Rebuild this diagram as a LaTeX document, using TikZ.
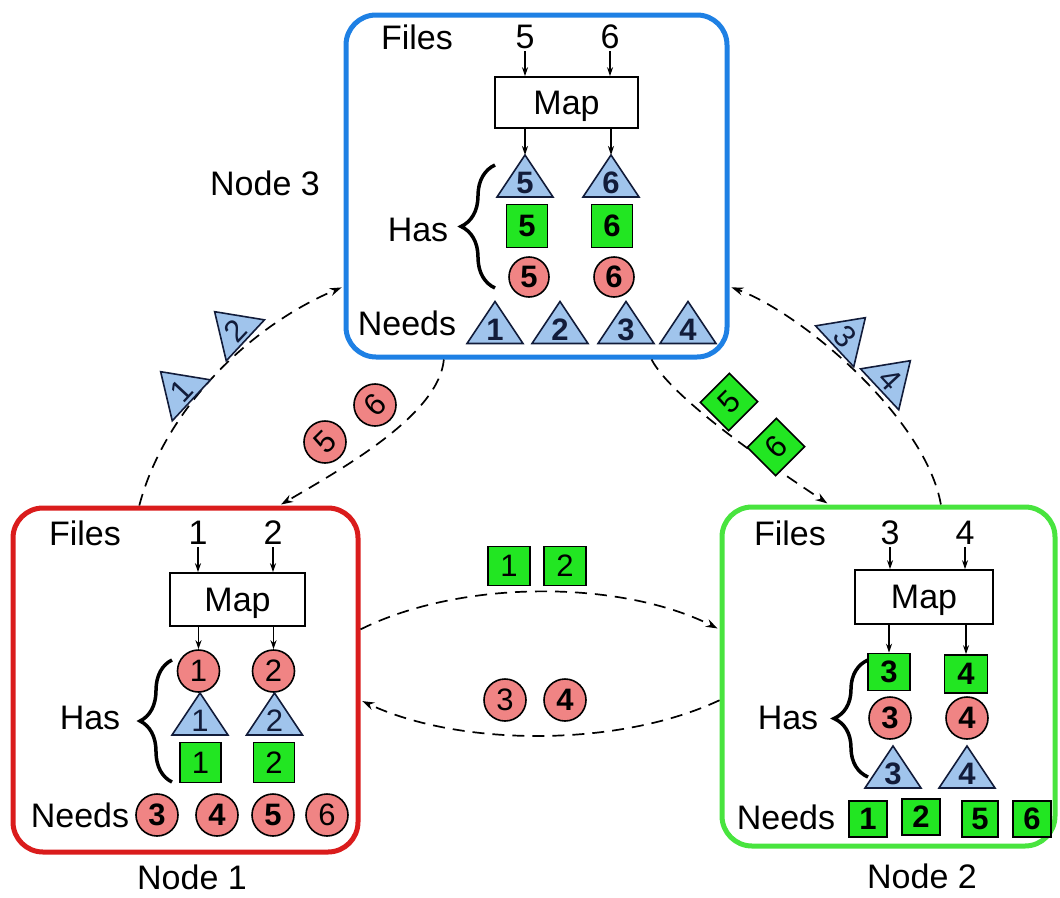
\documentclass[tikz,border=0pt]{standalone}
\usepackage{fontspec}
\setmainfont{Liberation Sans}
\usetikzlibrary{arrows.meta,calc,decorations.pathreplacing}
\definecolor{boxblue}{RGB}{30,128,228}
\definecolor{boxred}{RGB}{218,28,28}
\definecolor{boxgreen}{RGB}{72,228,62}
\definecolor{trifill}{RGB}{160,196,236}
\definecolor{triline}{RGB}{18,28,58}
\definecolor{sqfill}{RGB}{34,230,34}
\definecolor{circfill}{RGB}{240,132,132}
\newcommand{\dg}{\fontsize{31}{31}\selectfont}
\newcommand{\lblfont}{\fontsize{34}{36}\selectfont}
\newcommand{\mytri}[6]{%
  \begin{scope}[shift={(#2,#3)},rotate=#4]
    \draw[trishape] (-28,21) -- (28,21) -- (0,-21) -- cycle;
    \coordinate (#1top) at (0,-21);
    \node[trinum,transform shape] (#1) at (0,7) {#5#6};
  \end{scope}}
\tikzset{
  bigbox/.style={rectangle,rounded corners=30pt,line width=5pt,inner sep=0pt},
  lbl/.style={inner sep=0pt,font=\lblfont},
  fnum/.style={inner sep=2pt,font=\lblfont},
  mapbox/.style={draw,line width=1.6pt,rectangle,inner sep=0pt,text depth=0pt,font=\lblfont},
  farrow/.style={line width=1.2pt,-{Stealth[length=9pt,width=6pt]}},
  sq/.style={draw=black,line width=1.6pt,fill=sqfill,minimum width=41pt,minimum height=40pt,inner sep=0pt,font=\dg},
  circ/.style={circle,draw=black,line width=1.6pt,fill=circfill,minimum size=42pt,inner sep=0pt,font=\dg},
  trishape/.style={draw=triline,line width=1.6pt,fill=trifill,line join=miter},
  trinum/.style={inner sep=0pt,text=triline,font=\dg},
  flow/.style={line width=1.7pt,dash pattern=on 12pt off 8pt,-{Stealth[length=12pt,width=8pt]},shorten >=2pt},
  hbrace/.style={decorate,line width=3.5pt},
}
\begin{document}
\begin{tikzpicture}[x=1pt,y=-1pt]
\useasboundingbox (0,0) rectangle (1060,897);

% ---------- boxes ----------
\node[bigbox,draw=boxblue,minimum width=381pt,minimum height=342pt] (box3) at (536.5,186) {};
\node[bigbox,draw=boxred,minimum width=345pt,minimum height=344pt] (box1) at (185.5,680) {};
\node[bigbox,draw=boxgreen,minimum width=333pt,minimum height=339pt] (box2) at (888.5,676.5) {};

\node[lbl] (lab3) at (265,183) {Node 3};
\node[lbl] (lab1) at (192,877) {Node 1};
\node[lbl] (lab2) at (922,876) {Node 2};

% ---------- Node 3 ----------
\node[lbl] (files3) at (417,37) {Files};
\node[fnum] (f5) at (525,37) {5};
\node[fnum] (f6) at (610,37) {6};
\node[mapbox,minimum width=143pt,minimum height=51pt] (map3) at (566.5,102.5) {Map};
\draw[farrow] (f5.south) -- (f5.south |- map3.north);
\draw[farrow] (f6.south) -- (f6.south |- map3.north);
\mytri{t35}{525}{176}{0}{\bfseries}{5}
\mytri{t36}{611}{176}{0}{\bfseries}{6}
\draw[farrow] (map3.south -| t35top) -- (t35top);
\draw[farrow] (map3.south -| t36top) -- (t36top);
\node[sq,minimum height=43pt] (s35) at (527,226) {\bfseries 5};
\node[sq,minimum height=43pt] (s36) at (612,226) {\bfseries 6};
\node[circ,minimum size=40pt] (c35) at (529,277) {\bfseries 5};
\node[circ,minimum size=40pt] (c36) at (614,277) {\bfseries 6};
\draw[hbrace,decoration={brace,amplitude=34pt}] (495,288) -- (495,165);
\node[lbl] (has3) at (418,230) {Has};
\node[lbl] (needs3) at (407,323) {Needs};
\mytri{n31}{495}{322.5}{0}{\bfseries}{1}
\mytri{n32}{560}{322.5}{0}{\bfseries}{2}
\mytri{n33}{626}{322.5}{0}{\bfseries}{3}
\mytri{n34}{688}{322.5}{0}{\bfseries}{4}

% ---------- Node 1 ----------
\node[lbl] (files1) at (85,533) {Files};
\node[fnum] (f1) at (198,533) {1};
\node[fnum] (f2) at (273,533) {2};
\node[mapbox,minimum width=135pt,minimum height=53pt] (map1) at (237.5,599.5) {Map};
\draw[farrow] (f1.south) -- (f1.south |- map1.north);
\draw[farrow] (f2.south) -- (f2.south |- map1.north);
\node[circ] (c11) at (198.5,671) {1};
\node[circ] (c12) at (273.5,671) {2};
\draw[farrow] (map1.south -| c11.north) -- (c11.north);
\draw[farrow] (map1.south -| c12.north) -- (c12.north);
\mytri{t11}{200}{714}{0}{}{1}
\mytri{t12}{274.5}{714}{0}{}{2}
\node[sq] (s11) at (200.5,762.5) {1};
\node[sq] (s12) at (274,762.5) {2};
\draw[hbrace,decoration={brace,amplitude=32pt}] (172,782) -- (172,660);
\node[lbl] (has1) at (90,718) {Has};
\node[lbl] (needs1) at (80,815) {Needs};
\node[circ] (n13) at (157,815) {\bfseries 3};
\node[circ] (n14) at (217,815) {\bfseries 4};
\node[circ] (n15) at (273,815) {\bfseries 5};
\node[circ] (n16) at (327,815) {6};

% ---------- Node 2 ----------
\node[lbl] (files2) at (790,533) {Files};
\node[fnum] (f3) at (890,533) {3};
\node[fnum] (f4) at (965,533) {4};
\node[mapbox,minimum width=138pt,minimum height=54pt] (map2) at (924,597) {Map};
\draw[farrow] (f3.south) -- (f3.south |- map2.north);
\draw[farrow] (f4.south) -- (f4.south |- map2.north);
\node[sq,minimum width=42pt,minimum height=37pt] (s23) at (889,672) {\bfseries 3};
\node[sq,minimum width=43pt,minimum height=38pt] (s24) at (966,674) {\bfseries 4};
\draw[farrow] (map2.south -| s23.north) -- (s23.north);
\draw[farrow] (map2.south -| s24.north) -- (s24.north);
\node[circ] (c23) at (890,718) {\bfseries 3};
\node[circ] (c24) at (967,718) {\bfseries 4};
\mytri{t23}{893}{767}{0}{\bfseries}{3}
\mytri{t24}{967}{767}{0}{\bfseries}{4}
\draw[hbrace,decoration={brace,amplitude=34pt}] (868,777) -- (868,660);
\node[lbl] (has2) at (788,718) {Has};
\node[lbl] (needs2) at (786,817) {Needs};
\node[sq,minimum width=38pt,minimum height=36pt] (n21) at (868,819) {\bfseries 1};
\node[sq,minimum width=38pt,minimum height=36pt] (n22) at (921,817) {\bfseries 2};
\node[sq,minimum width=36pt,minimum height=36pt] (n25) at (980,819) {\bfseries 5};
\node[sq,minimum width=38pt,minimum height=36pt] (n26) at (1032,819) {\bfseries 6};

% ---------- transfers ----------
% Node 1 -> Node 3 : triangles 1,2
\draw[flow] ($(box1.north west)!0.368!(box1.north east)$) .. controls +(25,-95) and +(-95,40) .. ($(box3.north west)!0.79!(box3.south west)$);
\mytri{m1}{176}{386}{47}{}{1}
\mytri{m2}{230}{326}{47}{}{2}

% Node 3 -> Node 1 : circles 5,6
\draw[flow] ($(box3.south west)!0.26!(box3.south east)$) .. controls +(-5,55) and +(65,-38) .. ($(box1.north west)!0.768!(box1.north east)$);
\node[circ,rotate=45] (mc5) at (325,442) {5};
\node[circ,rotate=45] (mc6) at (375,405) {6};

% Node 3 -> Node 2 : squares 5,6
\draw[flow] ($(box3.south west)!0.798!(box3.south east)$) .. controls +(22,42) and +(-42,-28) .. ($(box2.north west)!0.324!(box2.north east)$);
\node[sq,rotate=45] (ms5) at (729,402) {5};
\node[sq,rotate=45] (ms6) at (776,447) {6};

% Node 2 -> Node 3 : triangles 3,4
\draw[flow] ($(box2.north west)!0.655!(box2.north east)$) .. controls +(-15,-85) and +(75,28) .. ($(box3.north east)!0.79!(box3.south east)$);
\mytri{m3}{850}{332}{-47}{}{3}
\mytri{m4}{895}{375}{-47}{}{4}

% Node 1 -> Node 2 : squares 1,2
\draw[flow] ($(box1.north east)!0.355!(box1.south east)$) .. controls +(100,-50) and +(-100,-50) .. ($(box2.north west)!0.363!(box2.south west)$);
\node[sq,minimum width=42pt,minimum height=39pt] (ms1) at (509,566) {1};
\node[sq,minimum width=42pt,minimum height=39pt] (ms2) at (565,566) {2};

% Node 2 -> Node 1 : circles 3,4
\draw[flow] ($(box2.north west)!0.569!(box2.south west)$) .. controls +(-100,47) and +(100,47) .. ($(box1.north east)!0.558!(box1.south east)$);
\node[circ] (mc3) at (505,700) {3};
\node[circ] (mc4) at (565,700) {\bfseries 4};
\end{tikzpicture}
\end{document}
